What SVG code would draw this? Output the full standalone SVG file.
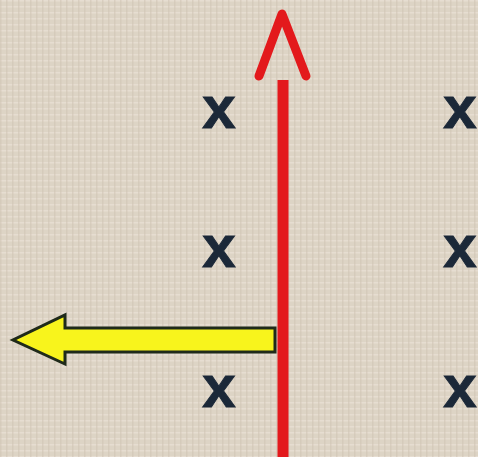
<svg xmlns="http://www.w3.org/2000/svg" width="478" height="457" viewBox="0 0 478 457">
<style>
.x{font-family:"Liberation Sans",Arial,sans-serif;font-weight:bold;font-size:60px;fill:#1b2838;stroke:#1b2838;stroke-width:1;text-anchor:middle}
</style>
<defs>
<pattern id="linen" width="6" height="6" patternUnits="userSpaceOnUse">
<rect width="6" height="6" fill="#ddd4c5"/>
<rect x="0" y="0" width="6" height="1.5" fill="#e8e0d4" opacity="0.8"/>
<rect x="0" y="0" width="1.5" height="6" fill="#d0c5b4" opacity="0.6"/>
</pattern>
</defs>
<rect width="478" height="457" fill="url(#linen)"/>
<g id="marks">
<text class="x" x="219" y="128">x</text>
<text class="x" x="460" y="128">x</text>
<text class="x" x="219" y="267">x</text>
<text class="x" x="460" y="267">x</text>
<text class="x" x="219" y="407">x</text>
<text class="x" x="460" y="407">x</text>
</g>
<g id="connectors">
<line x1="283" y1="80" x2="283" y2="457" stroke="#e3191c" stroke-width="11"/>
<polyline points="259,76 282,14 306,76" fill="none" stroke="#e3191c" stroke-width="9" stroke-linecap="round" stroke-linejoin="round"/>
</g>
<g id="yellow-arrow">
<polygon points="275,328 65,328 65,315 13,340 65,364 65,352 275,352" fill="#f8f41c" stroke="#1f2a1a" stroke-width="3" stroke-linejoin="miter"/>
</g>
</svg>
